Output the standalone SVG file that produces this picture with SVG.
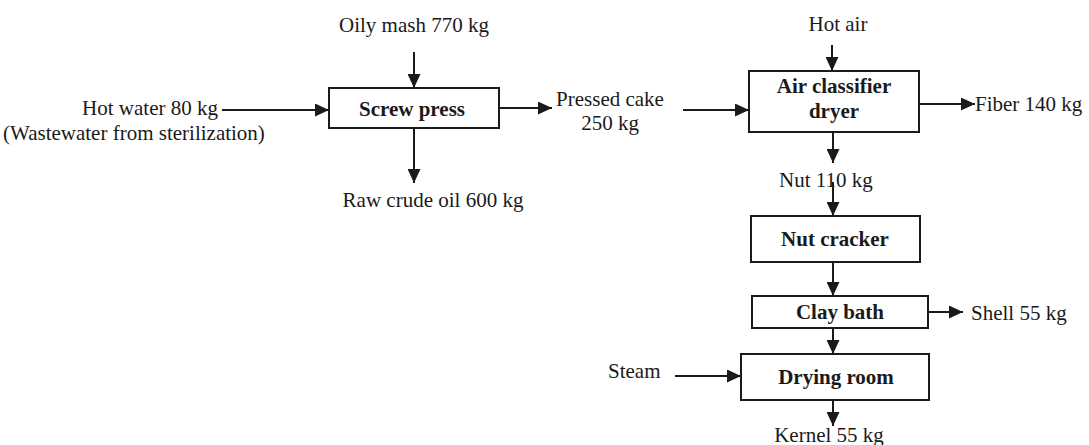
<svg xmlns="http://www.w3.org/2000/svg" width="1089" height="445" viewBox="0 0 1089 445">
<defs>
<marker id="ah" markerUnits="userSpaceOnUse" markerWidth="15" markerHeight="13" refX="14" refY="6.5" orient="auto">
<path d="M0,0 L14,6.5 L0,13 Z" fill="#1a1a1a"/>
</marker>
<style>
.box{fill:#fff;stroke:#1a1a1a;stroke-width:2}
.ln{fill:none;stroke:#1a1a1a;stroke-width:2;marker-end:url(#ah)}
.t{font-family:"Liberation Serif","Times New Roman",serif;font-size:21px;fill:#1a1a1a}
.b{font-family:"Liberation Serif","Times New Roman",serif;font-size:21px;font-weight:bold;fill:#1a1a1a}
.m{text-anchor:middle}
</style>
</defs>
<rect width="1089" height="445" fill="#fff"/>
<g id="connectors">
<line class="ln" x1="222" y1="110" x2="329" y2="110"/>
<line class="ln" x1="414" y1="52" x2="414" y2="88"/>
<line class="ln" x1="499" y1="108" x2="552" y2="108"/>
<line class="ln" x1="414" y1="128" x2="414" y2="183"/>
<line class="ln" x1="683" y1="110" x2="749" y2="110"/>
<line class="ln" x1="832" y1="45" x2="832" y2="71"/>
<line class="ln" x1="919" y1="104" x2="975" y2="104"/>
<line class="ln" x1="833" y1="132" x2="833" y2="163"/>
<line class="ln" x1="833" y1="182" x2="833" y2="216"/>
<line class="ln" x1="833" y1="262" x2="833" y2="296"/>
<line class="ln" x1="833" y1="328" x2="833" y2="354"/>
<line class="ln" x1="928" y1="312" x2="963" y2="312"/>
<line class="ln" x1="675" y1="376" x2="741" y2="376"/>
<line class="ln" x1="833" y1="400" x2="833" y2="426"/>
</g>
<g id="screw-press">
<rect class="box" x="329" y="88" width="170" height="40"/>
<text class="b m" x="412" y="116">Screw press</text>
</g>
<g id="air-classifier">
<rect class="box" x="749" y="71" width="170" height="61"/>
<text class="b m" x="834" y="93">Air classifier</text>
<text class="b m" x="834" y="118">dryer</text>
</g>
<g id="nut-cracker">
<rect class="box" x="751" y="216" width="169" height="46"/>
<text class="b m" x="835" y="246">Nut cracker</text>
</g>
<g id="clay-bath">
<rect class="box" x="752" y="296" width="176" height="32"/>
<text class="b m" x="840" y="319">Clay bath</text>
</g>
<g id="drying-room">
<rect class="box" x="741" y="354" width="188" height="46"/>
<text class="b m" x="836" y="384">Drying room</text>
</g>
<g id="labels">
<text class="t m" x="414" y="32">Oily mash 770 kg</text>
<text class="t" x="218" y="115" text-anchor="end">Hot water 80 kg</text>
<text class="t" x="3" y="140">(Wastewater from sterilization)</text>
<text class="t m" x="433" y="207">Raw crude oil 600 kg</text>
<text class="t m" x="610" y="106">Pressed cake</text>
<text class="t m" x="610" y="130">250 kg</text>
<text class="t m" x="838" y="31">Hot air</text>
<text class="t" x="975" y="111">Fiber 140 kg</text>
<text class="t" x="779" y="187">Nut 110 kg</text>
<text class="t" x="971" y="320">Shell 55 kg</text>
<text class="t" x="608" y="378">Steam</text>
<text class="t m" x="829" y="442">Kernel 55 kg</text>
</g>
</svg>
